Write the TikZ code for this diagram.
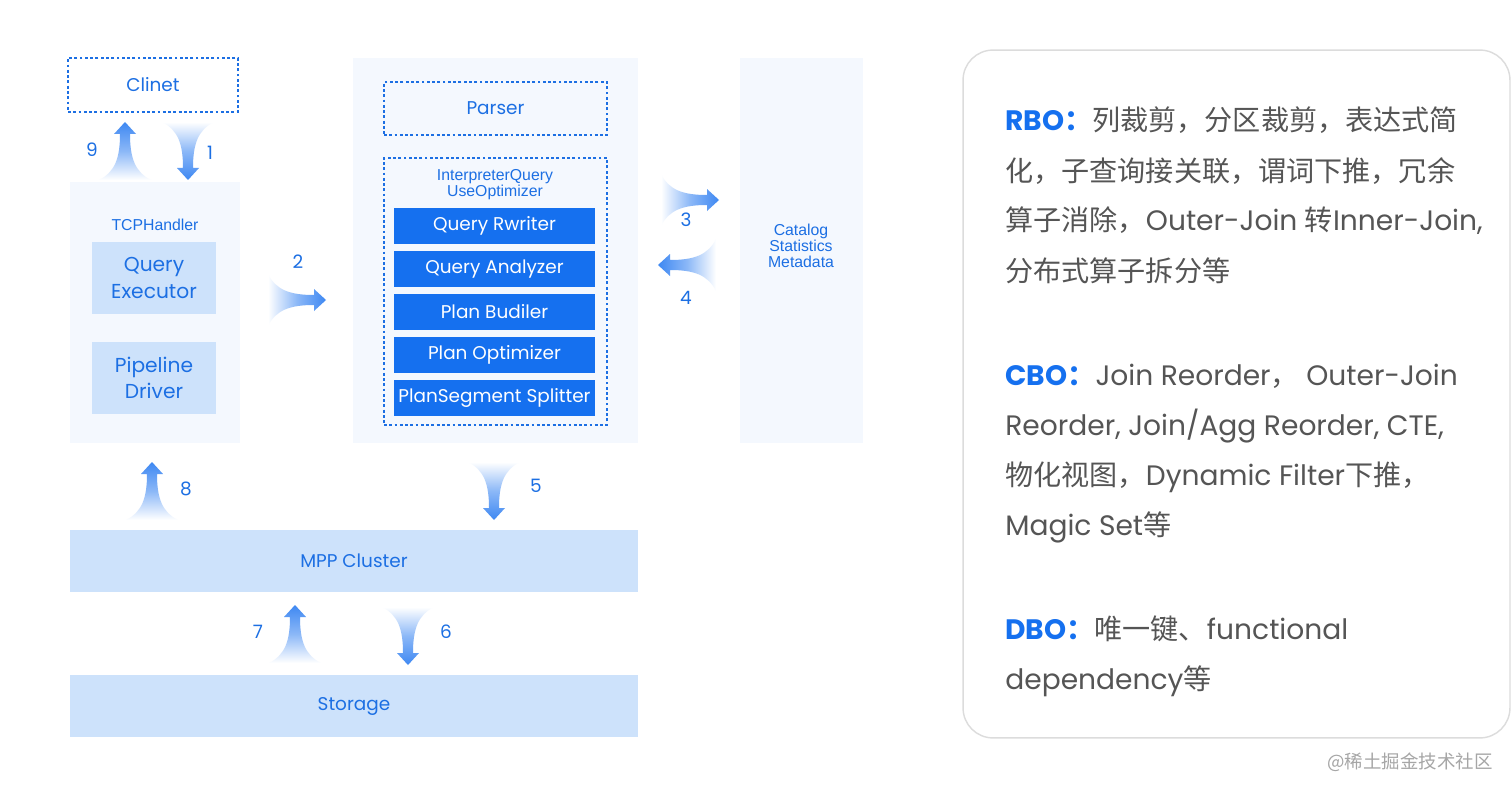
\documentclass[tikz,border=0pt]{standalone}
\usepackage{fontspec}
\setmainfont{Poppins}
\newfontfamily\cjk{Noto Sans CJK SC}
\newfontfamily\arialf{Liberation Sans}
\usepackage{xcolor}
\usetikzlibrary{positioning}

\definecolor{diablue}{HTML}{1C6FE3}
\definecolor{panelbg}{HTML}{F4F8FE}
\definecolor{lightbox}{HTML}{CDE2FB}
\definecolor{darkbox}{HTML}{1570EF}
\definecolor{arrblue}{HTML}{3E88F2}
\definecolor{txtgray}{HTML}{555555}
\definecolor{framegray}{HTML}{DCDCDC}

\tikzset{
  pics/fatarrow/.style={code={
    \shade[rotate=#1, top color=arrblue, bottom color=white, middle color=arrblue!60,
           shading angle=#1]
      (0,0) -- (11,12) -- (5,12) .. controls (5,36) and (10,50) .. (26,58)
      -- (-26,58) .. controls (-10,50) and (-5,36) .. (-5,12) -- (-11,12) -- cycle;
  }},
  pics/fatarrow/.default=0
}

\begin{document}
\begin{tikzpicture}[x=0.02cm, y=-0.02cm,
    panel/.style={fill=panelbg, inner sep=0},
    dashbox/.style={draw=diablue, line width=1.1pt, dash pattern=on 1.6pt off 1.4pt,
                    text=diablue, font=\fontsize{10.5}{12}\selectfont},
    lbox/.style={fill=lightbox, text=diablue, align=center, minimum width=2.48cm,
                 minimum height=1.44cm, font=\fontsize{11.5}{15}\selectfont},
    dbox/.style={fill=darkbox, text=white, minimum width=4.02cm, minimum height=0.72cm,
                 inner sep=0, font=\fontsize{10.5}{12}\selectfont},
    small/.style={text=diablue, align=center, inner sep=0, font=\arialf\fontsize{9}{9}\selectfont},
    num/.style={text=diablue, font=\fontsize{10.5}{12}\selectfont},
    band/.style={fill=lightbox, text=diablue, minimum width=11.36cm, minimum height=1.24cm,
                 font=\fontsize{10.5}{12}\selectfont},
    txt/.style={anchor=base west, inner sep=0, text=txtgray, font=\fontsize{16}{20}\selectfont}
  ]
    \path[use as bounding box, fill=white] (0,0) rectangle (1512,794);
    % client and handler
    \node[dashbox, minimum width=3.4cm, minimum height=1.08cm] (clinet) at (153,85) {Clinet};
    \node[panel, minimum width=3.4cm, minimum height=5.22cm] (tcp) at (155,312.5) {};
    \node[small] (tcptitle) at (155,225) {TCPHandler};
    \node[lbox] (qexec) at (154,278) {Query\\Executor};
    \node[lbox, below=0.54cm of qexec] (pdrv) {Pipeline\\Driver};
    % interpreter
    \node[panel, minimum width=5.7cm, minimum height=7.7cm] (mid) at (495.5,250.5) {};
    \node[dashbox, minimum width=4.46cm, minimum height=1.06cm] (parser) at (495.5,108.5) {Parser};
    \node[dashbox, minimum width=4.46cm, minimum height=5.34cm] (interp) at (495.5,291.5) {};
    \node[small] (interptitle) at (495,185) {InterpreterQuery\\UseOptimizer};
    \node[dbox] (qrw) at (494.5,226) {Query Rwriter};
    \node[dbox, below=0.125cm of qrw] (qan) {Query Analyzer};
    \node[dbox, below=0.125cm of qan] (pbld) {Plan Budiler};
    \node[dbox, below=0.125cm of pbld] (popt) {Plan Optimizer};
    \node[dbox, below=0.125cm of popt] (pseg) {PlanSegment Splitter};
    % catalog
    \node[panel, minimum width=2.46cm, minimum height=7.7cm] (cat) at (801.5,250.5) {};
    \node[small] (cattxt) at (801,246) {Catalog\\Statistics\\Metadata};
    % cluster and storage
    \node[band] (mpp) at (354,561) {MPP Cluster};
    \node[band] (stor) at (354,706) {Storage};
    % flow arrows
    \pic at (125,122) {fatarrow};
    \pic at (188,180) {fatarrow=180};
    \pic at (326,300) {fatarrow=-90};
    \pic at (719,200) {fatarrow=-90};
    \pic at (658,265) {fatarrow=90};
    \pic at (494,520) {fatarrow=180};
    \pic at (152,462) {fatarrow};
    \pic at (295,605) {fatarrow};
    \pic at (408,665) {fatarrow=180};
    \node[num] (n1) at (210,153) {1};
    \node[num] (n2) at (298,262) {2};
    \node[num] (n3) at (686,220) {3};
    \node[num] (n4) at (686,298) {4};
    \node[num] (n5) at (536,486) {5};
    \node[num] (n6) at (446,632) {6};
    \node[num] (n7) at (258,632) {7};
    \node[num] (n8) at (186,489) {8};
    \node[num] (n9) at (92,150) {9};
    % optimizer notes
    \node[draw=framegray, line width=0.8pt, rounded corners=0.6cm, fill=white,
          minimum width=10.94cm, minimum height=13.76cm] (note) at (1236.5,394) {};
    \node[txt] (rbo1) at (1005,131) {{\color{darkbox}\bfseries RBO{\cjk ：}}{\cjk 列裁剪，分区裁剪，表达式简}};
    \node[txt] (rbo2) at (1005,181) {{\cjk 化，子查询接关联，谓词下推，冗余}};
    \node[txt] (rbo3) at (1005,231) {{\cjk 算子消除，}Outer-Join {\cjk 转}Inner-Join,};
    \node[txt] (rbo4) at (1005,281) {{\cjk 分布式算子拆分等}};
    \node[txt] (cbo1) at (1005,385) {{\color{darkbox}\bfseries CBO{\cjk ：}}Join Reorder{\cjk ，} Outer-Join};
    \node[txt] (cbo2) at (1005,435) {Reorder, Join/Agg Reorder, CTE,};
    \node[txt] (cbo3) at (1005,485) {{\cjk 物化视图，}Dynamic Filter{\cjk 下推，}};
    \node[txt] (cbo4) at (1005,535) {Magic Set{\cjk 等}};
    \node[txt] (dbo1) at (1005,639) {{\color{darkbox}\bfseries DBO{\cjk ：}}{\cjk 唯一键、}functional};
    \node[txt] (dbo2) at (1005,689) {dependency{\cjk 等}};
    \node[text=gray!70, font=\cjk\fontsize{10.5}{12}\selectfont] (wm) at (1410,762) {@稀土掘金技术社区};
\end{tikzpicture}
\end{document}
